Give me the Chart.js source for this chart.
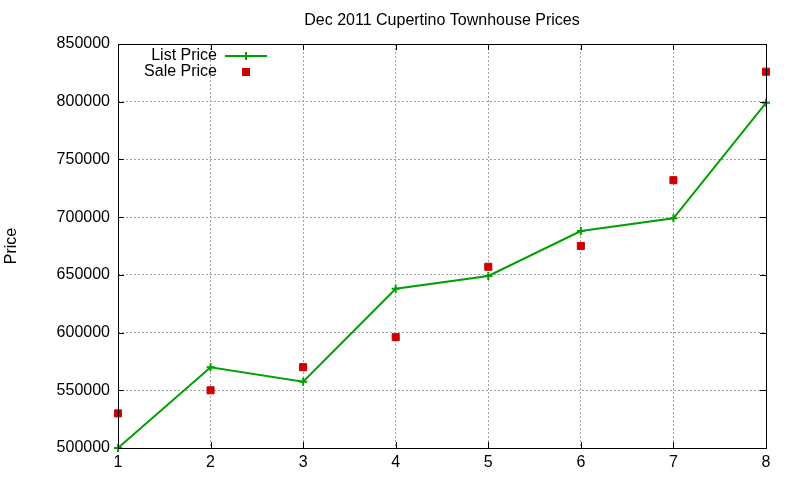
<!DOCTYPE html>
<html>
<head>
<meta charset="utf-8">
<script src="https://cdn.jsdelivr.net/npm/chart.js@4"></script>
<style>
  html, body { margin: 0; padding: 0; background: #fff; }
  #wrap { width: 800px; height: 480px; }
</style>
</head>
<body>
<div id="wrap"><canvas id="chartHarga"></canvas></div>
<script>
// data
const bulan = [1, 2, 3, 4, 5, 6, 7, 8];
const listPrice = [500000, 570000, 557500, 638000, 649000, 688000, 699000, 799000];
const salePrice = [530000, 550000, 570000, 596000, 657000, 675000, 732000, 826000];
const yTicks = [500000, 550000, 600000, 650000, 700000, 750000, 800000, 850000];
const judul = 'Dec 2011 Cupertino Townhouse Prices';

const fontNama = "'Liberation Sans', Arial, sans-serif";

// bingkai + tick ke dalam ala gnuplot, judul di tengah plot, legend di dalam plot
const bingkai = {
    id: 'bingkai',
    afterDatasetsDraw(chart) {
        const { ctx, chartArea: a, scales } = chart;
        ctx.save();
        ctx.strokeStyle = '#000';
        ctx.lineWidth = 1;
        ctx.beginPath();
        yTicks.forEach(v => {
            const y = Math.round(scales.y.getPixelForValue(v)) + 0.5;
            ctx.moveTo(a.left, y); ctx.lineTo(a.left + 6, y);
            ctx.moveTo(a.right, y); ctx.lineTo(a.right - 6, y);
        });
        bulan.forEach(v => {
            const x = Math.round(scales.x.getPixelForValue(v)) + 0.5;
            ctx.moveTo(x, a.bottom); ctx.lineTo(x, a.bottom - 6);
            ctx.moveTo(x, a.top); ctx.lineTo(x, a.top + 6);
        });
        ctx.stroke();
        ctx.strokeRect(Math.round(a.left) + 0.5, Math.round(a.top) + 0.5,
            Math.round(a.right - a.left), Math.round(a.bottom - a.top));
        ctx.restore();
    },
    afterDraw(chart) {
        const { ctx, chartArea: a } = chart;
        const ds = chart.data.datasets;
        ctx.save();
        ctx.fillStyle = '#000';
        ctx.font = '16px ' + fontNama;
        ctx.textAlign = 'center';
        ctx.textBaseline = 'middle';
        ctx.fillText(judul, (a.left + a.right) / 2, 21);

        ctx.textAlign = 'right';
        const xt = a.left + 99, xs = a.left + 128;
        const y1 = a.top + 12, y2 = a.top + 28;
        ctx.fillText(ds[0].label, xt, y1);
        ctx.fillText(ds[1].label, xt, y2);
        ctx.strokeStyle = ds[0].borderColor;
        ctx.lineWidth = 2;
        ctx.beginPath();
        ctx.moveTo(xs - 21, y1); ctx.lineTo(xs + 21, y1);
        ctx.moveTo(xs, y1 - 4); ctx.lineTo(xs, y1 + 4);
        ctx.stroke();
        ctx.fillStyle = ds[1].backgroundColor;
        ctx.fillRect(xs - 4, y2 - 4, 8, 8);
        ctx.restore();
    }
};

const ctx = document.getElementById('chartHarga').getContext('2d');
const myChart = new Chart(ctx, {
    type: 'line',
    data: {
        datasets: [{
            label: 'List Price',
            data: bulan.map((b, i) => ({ x: b, y: listPrice[i] })),
            borderColor: '#00a000',
            backgroundColor: '#00a000',
            borderWidth: 2,
            pointStyle: 'cross',
            pointRadius: 4,
            pointBorderWidth: 2,
            tension: 0,
            clip: false
        }, {
            label: 'Sale Price',
            data: bulan.map((b, i) => ({ x: b, y: salePrice[i] })),
            borderColor: '#cc0000',
            backgroundColor: '#cc0000',
            showLine: false,
            pointStyle: 'rect',
            pointRadius: 5,
            pointBorderWidth: 1,
            clip: false
        }]
    },
    options: {
        responsive: true,
        maintainAspectRatio: false,
        animation: false,
        layout: { padding: { left: 0, right: 34, top: 44, bottom: 0 } },
        plugins: {
            legend: { display: false },
            tooltip: { enabled: false },
            title: { display: false }
        },
        scales: {
            x: {
                type: 'linear',
                min: 1,
                max: 8,
                afterFit: s => { s.height = 32; },
                afterBuildTicks: s => { s.ticks = bulan.map(v => ({ value: v })); },
                grid: { color: '#a0a0a0', drawTicks: false, lineWidth: 1 },
                border: { display: false, dash: [2, 2] },
                ticks: {
                    color: '#000',
                    padding: 5,
                    font: { family: fontNama, size: 16 },
                    maxRotation: 0
                }
            },
            y: {
                min: 500000,
                max: 850000,
                afterFit: s => { s.width = 118; },
                afterBuildTicks: s => { s.ticks = yTicks.map(v => ({ value: v })); },
                grid: { color: '#a0a0a0', drawTicks: false, lineWidth: 1 },
                border: { display: false, dash: [2, 2] },
                title: {
                    display: true,
                    text: 'Price',
                    color: '#000',
                    font: { family: fontNama, size: 16 },
                    padding: { top: 2, bottom: 0 }
                },
                ticks: {
                    color: '#000',
                    padding: 8,
                    font: { family: fontNama, size: 16 },
                    callback: v => String(v)
                }
            }
        }
    },
    plugins: [bingkai]
});
</script>
</body>
</html>
